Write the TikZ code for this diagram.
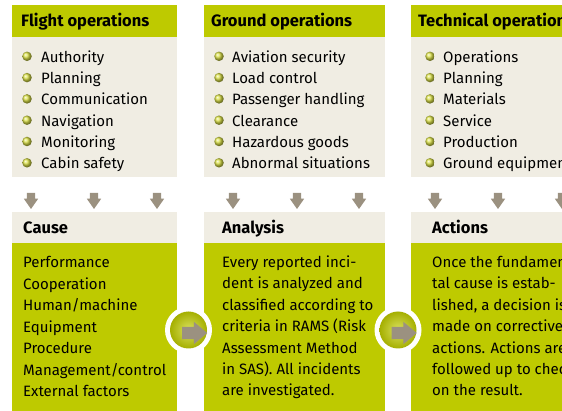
\documentclass[tikz,border=0pt]{standalone}
\usepackage{fontspec}
\setmainfont{Fira Sans}
\usepackage{tikz}
\usetikzlibrary{positioning,shapes.arrows}

\definecolor{sasgreen}{RGB}{190,202,0}
\definecolor{sasbeige}{RGB}{240,237,227}
\definecolor{sasgrey}{RGB}{155,145,128}
\definecolor{dotgreen}{RGB}{218,224,70}

\tikzset{
  box/.style={anchor=north west, inner sep=0pt, minimum width=#1, outer sep=0pt},
  headbox/.style={box=#1, fill=sasgreen, minimum height=32pt},
  listbox/.style={box=#1, fill=sasbeige, minimum height=140pt},
  titlebox/.style={box=#1, fill=sasbeige, minimum height=31pt},
  bodybox/.style={box=#1, fill=sasgreen, minimum height=170pt},
  title/.style={anchor=base west, inner sep=0pt, font=\bfseries\fontsize{16.5}{18}\selectfont},
  item/.style={anchor=base west, inner sep=0pt},
  dot/.style={circle, inner sep=0pt, minimum size=9.5pt, shading=ball, ball color=dotgreen},
  down/.style={single arrow, fill=sasgrey, shape border rotate=270, inner xsep=4pt,
    inner ysep=0pt, minimum height=16pt, single arrow head extend=3pt, single arrow tip angle=70},
  ring/.style={circle, fill=white, inner sep=0pt, minimum size=47pt},
  disc/.style={circle, inner sep=0pt, minimum size=37pt,
    inner color={rgb,255:red,218;green,225;blue,95}, outer color={rgb,255:red,165;green,175;blue,0}},
  next/.style={single arrow, fill=sasgrey, inner xsep=0pt, inner ysep=6pt, minimum height=25pt,
    single arrow head extend=5pt, single arrow tip angle=80},
}

\begin{document}
\begin{tikzpicture}[x=1pt, y=-1pt, font=\fontsize{15}{18}\selectfont]
\useasboundingbox (0,0) rectangle (562,411);
\clip (0,0) rectangle (562,411);

% top: the three areas
\node[headbox=165] (flighthead) at (12,5) {};
\node[listbox=165] (flightlist) at (12,37) {};
\node[headbox=181] (groundhead) at (204,5) {};
\node[listbox=181] (groundlist) at (204,37) {};
\node[headbox=180] (techhead) at (411,5) {};
\node[listbox=180] (techlist) at (411,37) {};

\node[title] (flight) at (21,27) {Flight operations};
\node[title] (ground) at (211,27) {Ground operations};
\node[title] (tech) at (418,27) {Technical operations};

\foreach \t [count=\i] in {Authority, Planning, Communication, Navigation, Monitoring, Cabin safety} {
  \node[dot] (fdot\i) at (27,{56.3+21.3*(\i-1)}) {};
  \node[item] (fitem\i) at (41,{62.3+21.3*(\i-1)}) {\t};
}
\foreach \t [count=\i] in {Aviation security, Load control, Passenger handling, Clearance, Hazardous goods, Abnormal situations} {
  \node[dot] (gdot\i) at (219,{56.3+21.3*(\i-1)}) {};
  \node[item] (gitem\i) at (232,{62.3+21.3*(\i-1)}) {\t};
}
\foreach \t [count=\i] in {Operations, Planning, Materials, Service, Production, Ground equipment} {
  \node[dot] (tdot\i) at (430,{56.3+21.3*(\i-1)}) {};
  \node[item] (titem\i) at (443,{62.3+21.3*(\i-1)}) {\t};
}

% arrows down
\foreach \x [count=\i] in {31,94,157,233,297,359,435,498,562}
  \node[down] (down\i) at (\x,198) {};

% bottom: the three steps
\node[titlebox=165] (causehead) at (12,212) {};
\node[bodybox=165] (causebody) at (12,243) {};
\node[titlebox=181] (analysishead) at (204,212) {};
\node[bodybox=181] (analysisbody) at (204,243) {};
\node[titlebox=180] (actionshead) at (411,212) {};
\node[bodybox=180] (actionsbody) at (411,243) {};

\node[title] (cause) at (23,234) {Cause};
\node[title] (analysis) at (222,234) {Analysis};
\node[title] (actions) at (432,234) {Actions};

\foreach \t [count=\i] in {Performance, Cooperation, Human/machine, Equipment, Procedure, Management/control, External factors}
  \node[item] (cline\i) at (23,{268+21.4*(\i-1)}) {\t};
\foreach \t [count=\i] in {Every reported inci-, dent is analyzed and, classified according to, criteria in RAMS (Risk, Assessment Method, in SAS). All incidents, are investigated.}
  \node[item] (aline\i) at (222,{267.5+21.4*(\i-1)}) {\t};
\foreach \t [count=\i] in {Once the fundamen-, tal cause is estab-, {lished, a decision is}, made on corrective, actions. Actions are, followed up to check, on the result.}
  \node[item] (tline\i) at (432,{267.5+21.4*(\i-1)}) {\t};

% round arrows between the steps
\node[ring] (ring1) at (188.5,330) {};
\node[disc] (disc1) at (ring1) {};
\node[next] (next1) at (191,333) {};
\node[ring] (ring2) at (398,330) {};
\node[disc] (disc2) at (ring2) {};
\node[next] (next2) at (400.5,333) {};
\end{tikzpicture}
\end{document}
